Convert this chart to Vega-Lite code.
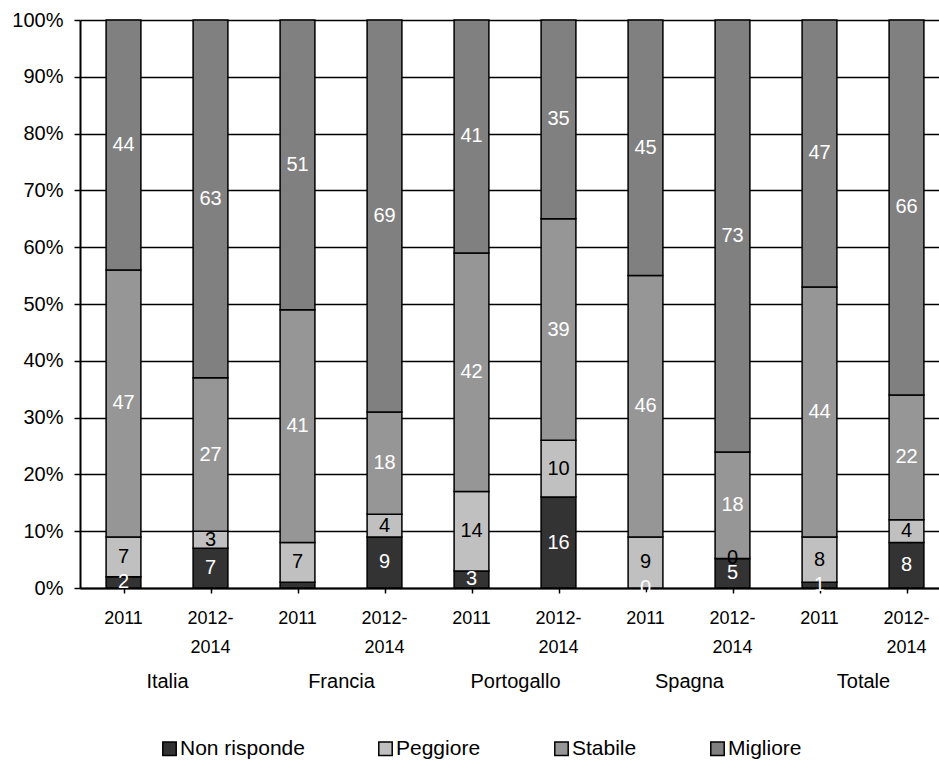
{
  "$schema": "https://vega.github.io/schema/vega-lite/v6.json",
  "width": 859,
  "height": 568,
  "autosize": {"type": "none"},
  "padding": {"left": 80, "top": 20, "right": 0, "bottom": 172},
  "background": "white",
  "config": {"view": {"stroke": null}},
  "data": {
    "values": [
      {"bar": "Italia 2011", "country": "Italia", "cat": "Non risponde", "ord": 1, "value": 2},
      {"bar": "Italia 2011", "country": "Italia", "cat": "Peggiore", "ord": 2, "value": 7},
      {"bar": "Italia 2011", "country": "Italia", "cat": "Stabile", "ord": 3, "value": 47},
      {"bar": "Italia 2011", "country": "Italia", "cat": "Migliore", "ord": 4, "value": 44},
      {"bar": "Italia 2012-2014", "country": "Italia", "cat": "Non risponde", "ord": 1, "value": 7},
      {"bar": "Italia 2012-2014", "country": "Italia", "cat": "Peggiore", "ord": 2, "value": 3},
      {"bar": "Italia 2012-2014", "country": "Italia", "cat": "Stabile", "ord": 3, "value": 27},
      {"bar": "Italia 2012-2014", "country": "Italia", "cat": "Migliore", "ord": 4, "value": 63},
      {"bar": "Francia 2011", "country": "Francia", "cat": "Non risponde", "ord": 1, "value": 1},
      {"bar": "Francia 2011", "country": "Francia", "cat": "Peggiore", "ord": 2, "value": 7},
      {"bar": "Francia 2011", "country": "Francia", "cat": "Stabile", "ord": 3, "value": 41},
      {"bar": "Francia 2011", "country": "Francia", "cat": "Migliore", "ord": 4, "value": 51},
      {"bar": "Francia 2012-2014", "country": "Francia", "cat": "Non risponde", "ord": 1, "value": 9},
      {"bar": "Francia 2012-2014", "country": "Francia", "cat": "Peggiore", "ord": 2, "value": 4},
      {"bar": "Francia 2012-2014", "country": "Francia", "cat": "Stabile", "ord": 3, "value": 18},
      {"bar": "Francia 2012-2014", "country": "Francia", "cat": "Migliore", "ord": 4, "value": 69},
      {"bar": "Portogallo 2011", "country": "Portogallo", "cat": "Non risponde", "ord": 1, "value": 3},
      {"bar": "Portogallo 2011", "country": "Portogallo", "cat": "Peggiore", "ord": 2, "value": 14},
      {"bar": "Portogallo 2011", "country": "Portogallo", "cat": "Stabile", "ord": 3, "value": 42},
      {"bar": "Portogallo 2011", "country": "Portogallo", "cat": "Migliore", "ord": 4, "value": 41},
      {"bar": "Portogallo 2012-2014", "country": "Portogallo", "cat": "Non risponde", "ord": 1, "value": 16},
      {"bar": "Portogallo 2012-2014", "country": "Portogallo", "cat": "Peggiore", "ord": 2, "value": 10},
      {"bar": "Portogallo 2012-2014", "country": "Portogallo", "cat": "Stabile", "ord": 3, "value": 39},
      {"bar": "Portogallo 2012-2014", "country": "Portogallo", "cat": "Migliore", "ord": 4, "value": 35},
      {"bar": "Spagna 2011", "country": "Spagna", "cat": "Non risponde", "ord": 1, "value": 0},
      {"bar": "Spagna 2011", "country": "Spagna", "cat": "Peggiore", "ord": 2, "value": 9},
      {"bar": "Spagna 2011", "country": "Spagna", "cat": "Stabile", "ord": 3, "value": 46},
      {"bar": "Spagna 2011", "country": "Spagna", "cat": "Migliore", "ord": 4, "value": 45},
      {"bar": "Spagna 2012-2014", "country": "Spagna", "cat": "Non risponde", "ord": 1, "value": 5},
      {"bar": "Spagna 2012-2014", "country": "Spagna", "cat": "Peggiore", "ord": 2, "value": 0},
      {"bar": "Spagna 2012-2014", "country": "Spagna", "cat": "Stabile", "ord": 3, "value": 18},
      {"bar": "Spagna 2012-2014", "country": "Spagna", "cat": "Migliore", "ord": 4, "value": 73},
      {"bar": "Totale 2011", "country": "Totale", "cat": "Non risponde", "ord": 1, "value": 1},
      {"bar": "Totale 2011", "country": "Totale", "cat": "Peggiore", "ord": 2, "value": 8},
      {"bar": "Totale 2011", "country": "Totale", "cat": "Stabile", "ord": 3, "value": 44},
      {"bar": "Totale 2011", "country": "Totale", "cat": "Migliore", "ord": 4, "value": 47},
      {"bar": "Totale 2012-2014", "country": "Totale", "cat": "Non risponde", "ord": 1, "value": 8},
      {"bar": "Totale 2012-2014", "country": "Totale", "cat": "Peggiore", "ord": 2, "value": 4},
      {"bar": "Totale 2012-2014", "country": "Totale", "cat": "Stabile", "ord": 3, "value": 22},
      {"bar": "Totale 2012-2014", "country": "Totale", "cat": "Migliore", "ord": 4, "value": 66}
    ]
  },
  "layer": [
    {
      "mark": {"type": "bar", "stroke": "black", "strokeWidth": 1.5, "width": {"band": 0.4}, "opacity": 1},
      "encoding": {
        "x": {
          "field": "bar", "type": "nominal", "sort": null,
          "scale": {"range": [0, 870], "paddingInner": 0, "paddingOuter": 0},
          "axis": {
            "orient": "bottom", "title": null, "grid": false, "ticks": false, "tickSize": 0,
            "labelAngle": 0,
            "labelExpr": "indexof(datum.value, '2012') >= 0 ? ['2012-', '2014'] : '2011'",
            "labelFont": "Liberation Sans Narrow, Arial Narrow, Liberation Sans, Arial, sans-serif",
            "labelFontSize": 18, "labelColor": "black", "labelLineHeight": 28.5,
            "labelPadding": 21.5, "labelBaseline": "top",
            "domainColor": "black", "domainWidth": 2
          }
        },
        "y": {
          "field": "value", "type": "quantitative", "stack": "normalize",
          "scale": {"domain": [0, 1]},
          "axis": {
            "orient": "left", "title": null,
            "values": [0, 0.1, 0.2, 0.3, 0.4, 0.5, 0.6, 0.7, 0.8, 0.9, 1],
            "format": ".0%",
            "labelFont": "Liberation Sans, Arial, sans-serif", "labelFontSize": 20, "labelColor": "black",
            "labelPadding": 11, "tickSize": 6, "tickColor": "black", "tickWidth": 1.5,
            "domainColor": "black", "domainWidth": 2,
            "grid": true, "gridColor": "black", "gridWidth": 1.5, "gridOpacity": 1
          }
        },
        "color": {
          "field": "cat", "type": "nominal",
          "sort": ["Non risponde", "Peggiore", "Stabile", "Migliore"],
          "scale": {
            "domain": ["Non risponde", "Peggiore", "Stabile", "Migliore"],
            "range": ["#333333", "#c0c0c0", "#969696", "#808080"]
          },
          "legend": {
            "orient": "none", "legendX": 79, "legendY": 718,
            "direction": "horizontal", "columns": 4, "title": null,
            "symbolType": "square", "symbolSize": 180,
            "symbolStrokeColor": "black", "symbolStrokeWidth": 1.5, "symbolOpacity": 1,
            "labelFont": "Liberation Sans, Arial, sans-serif", "labelFontSize": 21, "labelColor": "black",
            "labelOffset": 0, "columnPadding": 70, "labelLimit": 300
          }
        },
        "order": {"field": "ord", "type": "quantitative"}
      }
    },
    {
      "mark": {"type": "text", "font": "Liberation Sans, Arial, sans-serif", "fontSize": 20, "align": "center", "baseline": "middle"},
      "encoding": {
        "x": {
          "field": "bar", "type": "nominal", "sort": null,
          "scale": {"range": [0, 870], "paddingInner": 0, "paddingOuter": 0},
          "axis": {
            "orient": "bottom", "title": null, "grid": false, "labels": false, "domain": false,
            "ticks": true, "tickSize": 5, "tickColor": "black", "tickWidth": 1.5, "bandPosition": 0
          }
        },
        "y": {"field": "value", "type": "quantitative", "stack": "normalize", "bandPosition": 0.5},
        "detail": {"field": "cat", "type": "nominal"},
        "order": {"field": "ord", "type": "quantitative"},
        "text": {
          "condition": {"test": "datum.bar === 'Francia 2011' && datum.cat === 'Non risponde'", "value": ""},
          "field": "value", "type": "quantitative"
        },
        "color": {
          "condition": {"test": "datum.cat === 'Peggiore'", "value": "black"},
          "value": "white"
        }
      }
    },
    {
      "mark": {"type": "text"},
      "encoding": {
        "x": {
          "field": "country", "type": "nominal", "sort": null,
          "scale": {"range": [0, 870], "paddingInner": 0, "paddingOuter": 0},
          "axis": {
            "orient": "bottom", "title": null, "grid": false, "domain": false,
            "ticks": false, "tickSize": 0, "labelAngle": 0,
            "labelFont": "Liberation Sans, Arial, sans-serif", "labelFontSize": 20, "labelColor": "black",
            "labelPadding": 83, "labelBaseline": "top"
          }
        },
        "text": {"value": ""}
      }
    }
  ],
  "resolve": {"scale": {"x": "independent"}, "axis": {"x": "independent"}}
}
